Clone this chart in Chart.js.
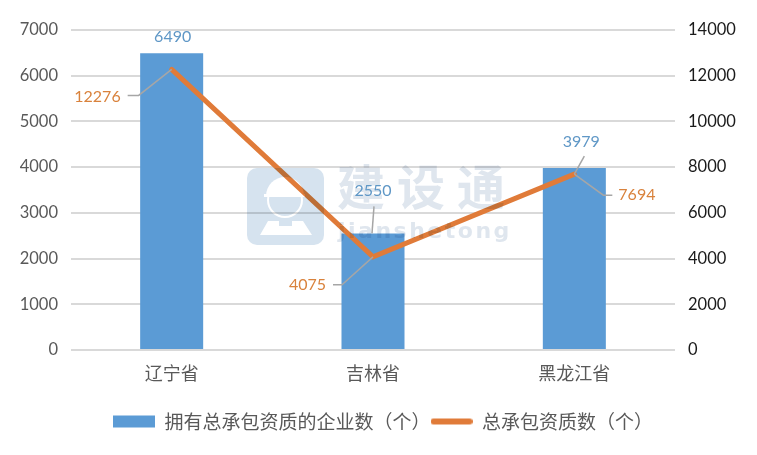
<!DOCTYPE html>
<html>
<head>
<meta charset="utf-8">
<style>
  html, body { margin: 0; padding: 0; background: #fff; }
  #wrap { position: relative; width: 757px; height: 455px; overflow: hidden; }
  #frame { position: absolute; left: 4px; top: 8px; width: 749px; height: 443px; border: 2px solid #d9d9d9; box-sizing: content-box; }
  canvas { position: absolute; left: 0; top: 0; }
</style>
<script src="https://cdn.jsdelivr.net/npm/chart.js@4"></script>
</head>
<body>
<div id="wrap">
  <div id="frame"></div>
  <canvas id="chart" width="757" height="455"></canvas>
</div>
<script>
const provinces = ["辽宁省", "吉林省", "黑龙江省"];
const companies = [6490, 2550, 3979];
const licences = [12276, 4075, 7694];
const leftTicks = [0, 1000, 2000, 3000, 4000, 5000, 6000, 7000];
const rightTicks = [0, 2000, 4000, 6000, 8000, 10000, 12000, 14000];
const barName = "拥有总承包资质的企业数（个）";
const lineName = "总承包资质数（个）";

const latin = "Lato, 'Noto Sans CJK SC', sans-serif";
const cjk = "'Noto Sans CJK SC', sans-serif";

function swatch(color, h, round) {
  const c = document.createElement("canvas");
  c.width = 42;
  c.height = 14;
  const g = c.getContext("2d");
  g.fillStyle = color;
  g.beginPath();
  g.roundRect(0, (14 - h) / 2, 42, h, round ? h / 2 : 0);
  g.fill();
  return c;
}

// leader lines and value labels, offsets are from the point or bar they belong to
const labelsPlugin = {
  id: "valueLabels",
  afterDatasetsDraw(chart) {
    const ctx = chart.ctx;
    const bars = chart.getDatasetMeta(0).data;
    const pts = chart.getDatasetMeta(1).data;
    const leader = (path) => {
      ctx.strokeStyle = "#a6a6a6";
      ctx.lineWidth = 1.5;
      ctx.beginPath();
      path.forEach((p, i) => i ? ctx.lineTo(p[0], p[1]) : ctx.moveTo(p[0], p[1]));
      ctx.stroke();
    };
    ctx.save();
    const p0 = pts[0], p1 = pts[1], p2 = pts[2];
    leader([[p0.x, p0.y], [p0.x - 33, p0.y + 26], [p0.x - 44, p0.y + 26]]);
    leader([[p1.x, p1.y], [p1.x - 31, p1.y + 28], [p1.x - 40, p1.y + 28]]);
    leader([[p2.x, p2.y], [p2.x + 29, p2.y + 21], [p2.x + 38, p2.y + 21]]);
    leader([[bars[1].x + 1, bars[1].y - 27], [bars[1].x - 1, bars[1].y]]);
    leader([[bars[2].x + 10, bars[2].y - 12], [p2.x, p2.y]]);

    ctx.font = "16px " + latin;
    ctx.textBaseline = "middle";
    ctx.fillStyle = "#5f97c6";
    ctx.textAlign = "center";
    ctx.fillText(companies[0], bars[0].x + 1, bars[0].y - 16);
    ctx.fillText(companies[1], bars[1].x, bars[1].y - 43);
    ctx.fillText(companies[2], bars[2].x + 7, bars[2].y - 26);
    ctx.fillStyle = "#d9823c";
    ctx.textAlign = "right";
    ctx.fillText(licences[0], p0.x - 51, p0.y + 27);
    ctx.fillText(licences[1], p1.x - 47, p1.y + 28);
    ctx.textAlign = "left";
    ctx.fillText(licences[2], p2.x + 44, p2.y + 21);
    ctx.restore();
  }
};

// site watermark, drawn off screen on white and multiplied over the plot
function buildWatermark() {
  const c = document.createElement("canvas");
  c.width = 757;
  c.height = 455;
  const g = c.getContext("2d");
  g.fillStyle = "#fff";
  g.fillRect(0, 0, 757, 455);
  g.fillStyle = "#d6e3ef";
  g.beginPath();
  g.roundRect(247, 168, 77, 77, 10);
  g.fill();
  g.fillStyle = "#fff";
  g.strokeStyle = "#fff";
  g.lineWidth = 2;
  g.beginPath();
  g.arc(285, 200, 17, 0, Math.PI * 2);
  g.stroke();
  g.beginPath();
  g.arc(285, 196, 19, Math.PI, 0);
  g.fill();
  g.fillRect(264, 194, 41, 3);
  g.beginPath();
  g.moveTo(268, 221);
  g.lineTo(279, 221);
  g.lineTo(279, 226);
  g.lineTo(292, 226);
  g.lineTo(292, 221);
  g.lineTo(303, 221);
  g.lineTo(312, 235);
  g.lineTo(260, 235);
  g.closePath();
  g.fill();
  g.fillStyle = "#dfe6ee";
  g.font = "bold 48px " + cjk;
  g.textAlign = "left";
  g.textBaseline = "middle";
  ["建", "设", "通"].forEach((t, i) => g.fillText(t, 337 + i * 60, 187));
  g.font = "bold 22px 'DejaVu Sans', sans-serif";
  g.letterSpacing = "2.5px";
  g.fillText("jianshetong", 338, 232);
  return c;
}

const watermarkPlugin = {
  id: "watermark",
  afterDatasetsDraw(chart) {
    const ctx = chart.ctx;
    ctx.save();
    ctx.globalCompositeOperation = "multiply";
    ctx.drawImage(buildWatermark(), 0, 0);
    ctx.restore();
  }
};

new Chart(document.getElementById("chart"), {
  data: {
    labels: provinces,
    datasets: [
      {
        type: "bar",
        label: barName,
        data: companies,
        yAxisID: "y",
        backgroundColor: "#5b9bd5",
        barPercentage: 1,
        categoryPercentage: 0.313,
        order: 2
      },
      {
        type: "line",
        label: lineName,
        data: licences,
        yAxisID: "y2",
        borderColor: "#e07b39",
        borderWidth: 5,
        borderCapStyle: "round",
        pointRadius: 0,
        tension: 0,
        order: 1
      }
    ]
  },
  options: {
    responsive: false,
    animation: false,
    layout: { padding: { top: 30, bottom: 14, left: 9, right: 0 } },
    plugins: {
      tooltip: { enabled: false },
      legend: {
        position: "bottom",
        labels: {
          usePointStyle: true,
          pointStyleWidth: 42,
          color: "#595959",
          padding: 0,
          font: { family: cjk, size: 19 },
          generateLabels: () => [
            { text: barName, pointStyle: swatch("#5b9bd5", 12, false), fontColor: "#595959", datasetIndex: 0 },
            { text: lineName, pointStyle: swatch("#e07b39", 6, true), fontColor: "#595959", datasetIndex: 1 }
          ]
        }
      }
    },
    scales: {
      x: {
        grid: { display: false },
        border: { display: false },
        afterFit: (s) => { s.height = 62; },
        ticks: { color: "#595959", padding: 4, font: { family: cjk, size: 18 } }
      },
      y: {
        position: "left",
        min: 0,
        max: 7000,
        afterFit: (s) => { s.width = 62; },
        afterBuildTicks: (s) => { s.ticks = leftTicks.map((v) => ({ value: v })); },
        grid: { color: "#d9d9d9", lineWidth: 2, drawTicks: false },
        border: { display: false },
        ticks: { color: "#595959", padding: 13, font: { family: latin, size: 16.5 }, callback: (v) => String(v) }
      },
      y2: {
        position: "right",
        min: 0,
        max: 14000,
        afterFit: (s) => { s.width = 82; },
        afterBuildTicks: (s) => { s.ticks = rightTicks.map((v) => ({ value: v })); },
        grid: { display: false, drawTicks: false },
        border: { display: false },
        ticks: { color: "#1a1a1a", padding: 13, font: { family: latin, size: 16.5 }, callback: (v) => String(v) }
      }
    }
  },
  plugins: [watermarkPlugin, labelsPlugin]
});
</script>
</body>
</html>
